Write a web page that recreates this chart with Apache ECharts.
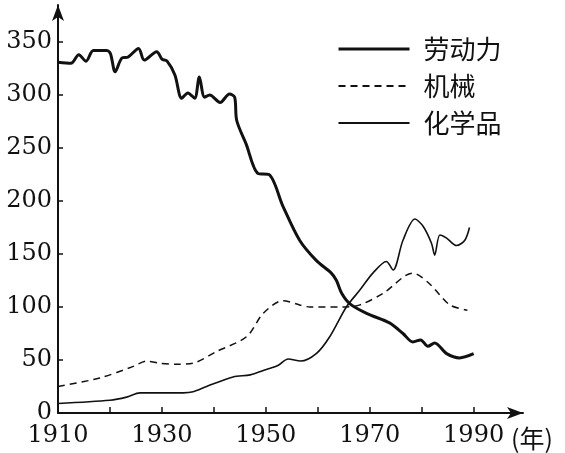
<!DOCTYPE html>
<html>
<head>
<meta charset="utf-8">
<script src="https://cdn.jsdelivr.net/npm/echarts@6/dist/echarts.min.js"></script>
<style>
  html, body { margin: 0; padding: 0; background: #fff; }
  #main { width: 565px; height: 453px; }
</style>
</head>
<body>
<div id="main"></div>
<script>
// 劳动力
var laborYears = [1910, 1912.5, 1914, 1915.4, 1916.8, 1919.4, 1920.1, 1921, 1922.3, 1923.5, 1925.5, 1926.6, 1929, 1930, 1931, 1932.5, 1933.8, 1935, 1936.3, 1937.2, 1938.2, 1939.2, 1941.2, 1943, 1944, 1944.4, 1946.2, 1948.5, 1950.6, 1953.3, 1956.5, 1959.7, 1962.6, 1963.6, 1964.6, 1966.2, 1969.4, 1973.8, 1976.4, 1978.3, 1979.8, 1981.2, 1982.5, 1984.8, 1987.3, 1990];
var laborValues = [331, 330, 338, 332, 342, 342, 339, 322, 335, 336, 344, 333, 341, 334, 332, 319, 297, 302, 297, 317, 298, 300, 293, 301, 298, 276, 254, 226, 225, 195, 163, 144, 132, 125, 113, 103, 94, 85, 75, 67, 69, 63, 66, 56, 52, 56];
// 机械
var machYears = [1910, 1918, 1924.5, 1927, 1929.6, 1932.8, 1936, 1940.5, 1946.3, 1949.5, 1953.3, 1956.5, 1958.5, 1964.9, 1968.1, 1972.6, 1978.3, 1981.5, 1985.4, 1988.8];
var machValues = [25, 33, 44, 49, 47, 46, 47, 58, 72, 94, 106, 102, 100, 100, 102, 113, 132, 122, 102, 97];
// 化学品
var chemYears = [1910, 1920, 1923.2, 1925.8, 1929.6, 1934.1, 1936, 1938.6, 1943.7, 1947, 1950.1, 1952.4, 1954.3, 1956.7, 1959.7, 1962.3, 1965.5, 1968.1, 1970.6, 1973.2, 1974.5, 1976.4, 1978.7, 1980.3, 1981.9, 1982.5, 1983.5, 1984.8, 1986.7, 1988.3, 1989.2];
var chemValues = [9, 12, 15, 19, 19, 19, 20, 25, 34, 36, 41, 45, 51, 49, 56, 72, 100, 116, 132, 143, 135, 163, 183, 176, 160, 149, 168, 165, 158, 163, 175];

var xLabels = [1910, 1930, 1950, 1970, 1990];
var xTicks = [1920, 1930, 1940, 1950, 1960, 1970, 1980, 1990];
var yLabels = [0, 50, 100, 150, 200, 250, 300, 350];

function pairs(xs, ys) {
  return xs.map(function (x, i) { return [x, ys[i]]; });
}

var dom = document.getElementById('main');
var myChart = echarts.init(dom, null, { renderer: 'canvas' });

var serif = 'DejaVu Serif';

var option = {
  backgroundColor: '#fff',
  animation: false,
  grid: { left: 58, right: 42, top: 5, bottom: 40 },
  legend: {
    orient: 'vertical',
    left: 337,
    top: 36,
    padding: 0,
    itemWidth: 71,
    itemHeight: 14,
    itemGap: 11,
    itemStyle: { opacity: 0 },
    textStyle: {
      fontFamily: 'Noto Sans CJK SC',
      fontSize: 26,
      lineHeight: 24,
      color: '#111',
      padding: [0, 0, 0, 9]
    },
    data: [
      { name: '劳动力', lineStyle: { width: 3 } },
      { name: '机械' },
      { name: '化学品' }
    ]
  },
  xAxis: {
    type: 'value',
    min: 1910,
    max: 1999.5,
    name: '(年)',
    nameLocation: 'end',
    nameGap: -12,
    nameTextStyle: {
      fontFamily: 'Noto Sans CJK SC',
      fontSize: 25,
      color: '#111',
      align: 'left',
      verticalAlign: 'top',
      padding: [13, 0, 0, 0]
    },
    splitLine: { show: false },
    axisLine: {
      onZero: false,
      symbol: ['none', 'arrow'],
      symbolSize: [9, 16],
      lineStyle: { color: '#111', width: 2 }
    },
    axisTick: {
      inside: true,
      length: 6,
      customValues: xTicks,
      lineStyle: { color: '#111', width: 1.5 }
    },
    axisLabel: {
      customValues: xLabels,
      formatter: function (v) { return String(v); },
      margin: 11,
      fontFamily: serif,
      fontSize: 24,
      color: '#111'
    }
  },
  yAxis: {
    type: 'value',
    min: 0,
    max: 385,
    splitLine: { show: false },
    axisLine: {
      show: true,
      onZero: false,
      symbol: ['none', 'arrow'],
      symbolSize: [9, 16],
      lineStyle: { color: '#111', width: 2 }
    },
    axisTick: {
      show: true,
      inside: true,
      length: 5,
      customValues: yLabels,
      lineStyle: { color: '#111', width: 1.5 }
    },
    axisLabel: {
      customValues: yLabels,
      margin: 6,
      fontFamily: serif,
      fontSize: 24,
      color: '#111'
    }
  },
  series: [
    {
      name: '劳动力',
      type: 'line',
      symbol: 'none',
      smooth: 0.3,
      data: pairs(laborYears, laborValues),
      lineStyle: { color: '#111', width: 3 },
      itemStyle: { color: '#111' }
    },
    {
      name: '机械',
      type: 'line',
      symbol: 'none',
      smooth: 0.3,
      data: pairs(machYears, machValues),
      lineStyle: { color: '#111', width: 1.5, type: [7, 5] },
      itemStyle: { color: '#111' }
    },
    {
      name: '化学品',
      type: 'line',
      symbol: 'none',
      smooth: 0.3,
      data: pairs(chemYears, chemValues),
      lineStyle: { color: '#111', width: 1.6 },
      itemStyle: { color: '#111' }
    }
  ]
};

myChart.setOption(option);
</script>
</body>
</html>
